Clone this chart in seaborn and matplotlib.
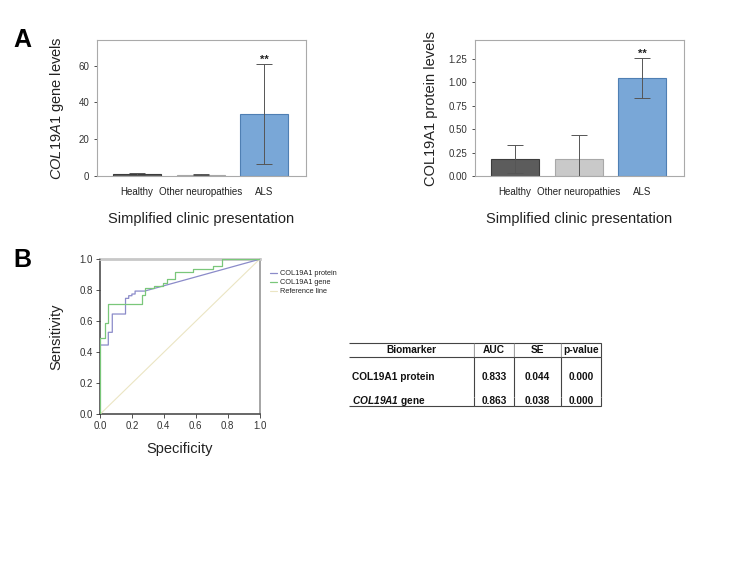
import matplotlib
matplotlib.use("Agg")
import matplotlib.pyplot as plt
import seaborn as sns
import pandas as pd

# ---- data ----
groups = ["Healthy", "Other neuropathies", "ALS"]
gene_mean = [1.2, 0.8, 33.5]
gene_sd = [0.5, 0.5, 27.2]
protein_mean = [0.186, 0.185, 1.046]
protein_sd = [0.15, 0.25, 0.21]
bar_colors = ["#5c5c5c", "#c9c9c9", "#79a7d7"]
bar_edges = ["#3c3c3c", "#a8a8a8", "#4f7fb3"]

prot_fpr = [0, 0, 0.052, 0.052, 0.077, 0.077, 0.16, 0.16, 0.18, 0.18, 0.2, 0.2,
            0.22, 0.22, 0.28, 1.0]
prot_tpr = [0, 0.447, 0.447, 0.529, 0.529, 0.647, 0.647, 0.748, 0.748, 0.765,
            0.765, 0.776, 0.776, 0.795, 0.795, 1.0]
gene_fpr = [0, 0, 0.03, 0.03, 0.052, 0.052, 0.265, 0.265, 0.285, 0.285, 0.34, 0.34,
            0.398, 0.398, 0.418, 0.418, 0.47, 0.47, 0.58, 0.58, 0.71, 0.71,
            0.767, 0.767, 1.0]
gene_tpr = [0, 0.49, 0.49, 0.587, 0.587, 0.712, 0.712, 0.77, 0.77, 0.813, 0.813,
            0.828, 0.828, 0.845, 0.845, 0.872, 0.872, 0.916, 0.916, 0.937, 0.937,
            0.957, 0.957, 1.0, 1.0]
ref_line = [0, 1]

table_cols = ["Biomarker", "AUC", "SE", "p-value"]
biomarkers = ["COL19A1 protein", r"$\mathbfit{COL19A1}$ gene"]
auc = ["0.833", "0.863"]
se = ["0.044", "0.038"]
pvals = ["0.000", "0.000"]

sns.set_theme(style="white")
plt.rcParams["font.family"] = ["Liberation Sans", "DejaVu Sans"]
plt.rcParams["mathtext.fontset"] = "custom"
plt.rcParams["mathtext.rm"] = "Liberation Sans"
plt.rcParams["mathtext.it"] = "Liberation Sans:italic"
plt.rcParams["mathtext.bf"] = "Liberation Sans:bold"
plt.rcParams["mathtext.bfit"] = "Liberation Sans:bold:italic"

W, H = 745, 566
fig = plt.figure(figsize=(W / 100, H / 100), dpi=100)


def box(x0, y0, x1, y1):
    return [x0 / W, 1 - y1 / H, (x1 - x0) / W, (y1 - y0) / H]


def bar_panel(rect, means, sds, ylim, yticks, ylabel, lab_pad):
    ax = fig.add_axes(rect)
    df = pd.DataFrame({"group": groups, "value": means})
    sns.barplot(data=df, x="group", y="value", hue="group", palette=bar_colors,
                legend=False, width=0.75, saturation=1, ax=ax, linewidth=0.8)
    for p, ec in zip(ax.patches, bar_edges):
        p.set_edgecolor(ec)
    ax.errorbar(range(len(groups)), means, yerr=sds, fmt="none", ecolor="#555555",
                elinewidth=0.7, capsize=6, capthick=0.7, zorder=5)
    ax.text(2, means[2] + sds[2], "**", ha="center", va="bottom", fontsize=8,
            fontweight="bold", color="#222222")
    ax.set_xlim(-0.62, 2.65)
    ax.set_ylim(*ylim)
    ax.set_yticks(yticks)
    ax.set_xlabel("Simplified clinic presentation", fontsize=10.5, labelpad=11,
                  color="#222222")
    ax.set_ylabel(ylabel, fontsize=10.5, labelpad=lab_pad, color="#222222")
    ax.tick_params(axis="x", length=0, labelsize=7, pad=8, colors="#222222")
    ax.tick_params(axis="y", length=2.5, width=0.6, labelsize=7, pad=3,
                   colors="#333333", left=True)
    for s in ax.spines.values():
        s.set_color("#aaaaaa")
        s.set_linewidth(0.8)
    return ax


bar_panel(box(97, 40, 306, 176), gene_mean, gene_sd, (0, 74), [0, 20, 40, 60],
          r"$\mathit{COL19A1}$ gene levels", 9)
bar_panel(box(475, 40, 684, 176), protein_mean, protein_sd, (0, 1.453),
          [0, 0.25, 0.5, 0.75, 1.0, 1.25], "COL19A1 protein levels", 8)
fig.axes[1].set_yticklabels(["0.00", "0.25", "0.50", "0.75", "1.00", "1.25"])

# ---- ROC ----
ax = fig.add_axes(box(100, 259.3, 259.5, 414.3))
sns.lineplot(x=ref_line, y=ref_line, ax=ax, color="#ebe5c3", linewidth=0.8,
             label="Reference line", sort=False, estimator=None)
sns.lineplot(x=prot_fpr, y=prot_tpr, ax=ax, color="#8b8bc9", linewidth=0.9,
             label="COL19A1 protein", sort=False, estimator=None)
sns.lineplot(x=gene_fpr, y=gene_tpr, ax=ax, color="#7ac77a", linewidth=0.9,
             label="COL19A1 gene", sort=False, estimator=None)
ax.set_xlim(0, 1)
ax.set_ylim(0, 1)
ax.set_xticks([0, 0.2, 0.4, 0.6, 0.8, 1.0])
ax.set_yticks([0, 0.2, 0.4, 0.6, 0.8, 1.0])
ax.set_xticklabels(["0.0", "0.2", "0.4", "0.6", "0.8", "1.0"])
ax.set_yticklabels(["0.0", "0.2", "0.4", "0.6", "0.8", "1.0"])
ax.tick_params(length=3, width=0.6, labelsize=7, pad=2, colors="#333333",
               left=True, bottom=True)
ax.set_xlabel("Specificity", fontsize=10.5, labelpad=8, color="#222222")
ax.set_ylabel("Sensitivity", fontsize=10.5, labelpad=12, color="#222222")
ax.spines["left"].set_color("#555555")
ax.spines["bottom"].set_color("#555555")
ax.spines["top"].set_color("#c8c8c8")
ax.spines["top"].set_linewidth(2)
ax.spines["right"].set_color("#9a9a9a")
for s in ax.spines.values():
    s.set_zorder(0.5)
handles, labels = ax.get_legend_handles_labels()
order = [1, 2, 0]
ax.legend([handles[i] for i in order], [labels[i] for i in order],
          loc="upper left", bbox_to_anchor=(270 / W, 1 - 270 / H),
          bbox_transform=fig.transFigure, frameon=False, fontsize=5.3,
          handlelength=0.9, handletextpad=0.4, labelspacing=0.25,
          borderpad=0, borderaxespad=0)

# ---- table ----
tax = fig.add_axes(box(349, 343, 601, 406))
tax.axis("off")
cell_text = [list(r) for r in zip(biomarkers, auc, se, pvals)]
tbl = tax.table(cellText=cell_text, colLabels=table_cols, cellLoc="center",
                bbox=[0, 0, 1, 1])
tbl.auto_set_font_size(False)
col_w = [125, 40, 47, 40]
row_h = [14, 40, 9]
for (r, c), cell in tbl.get_celld().items():
    cell.set_width(col_w[c])
    cell.set_height(row_h[r])
    cell.set_linewidth(0.8)
    cell.set_edgecolor("#444444")
    cell.get_text().set_fontsize(7.3)
    cell.get_text().set_fontweight("bold")
    cell.get_text().set_color("#111111")
    if r > 0 and c == 0:
        cell._loc = "left"
        cell.PAD = 0.02
        cell.get_text().set_horizontalalignment("left")
    if r == 0:
        cell.visible_edges = "TBR"
    elif r == 1:
        cell.visible_edges = "R"
    else:
        cell.visible_edges = "RB"

fig.text(22 / W, 1 - 40 / H, "A", fontsize=18, fontweight="bold", ha="center",
         va="center", color="black")
fig.text(22 / W, 1 - 260 / H, "B", fontsize=18, fontweight="bold", ha="center",
         va="center", color="black")

fig.savefig("out.png", dpi=100)
